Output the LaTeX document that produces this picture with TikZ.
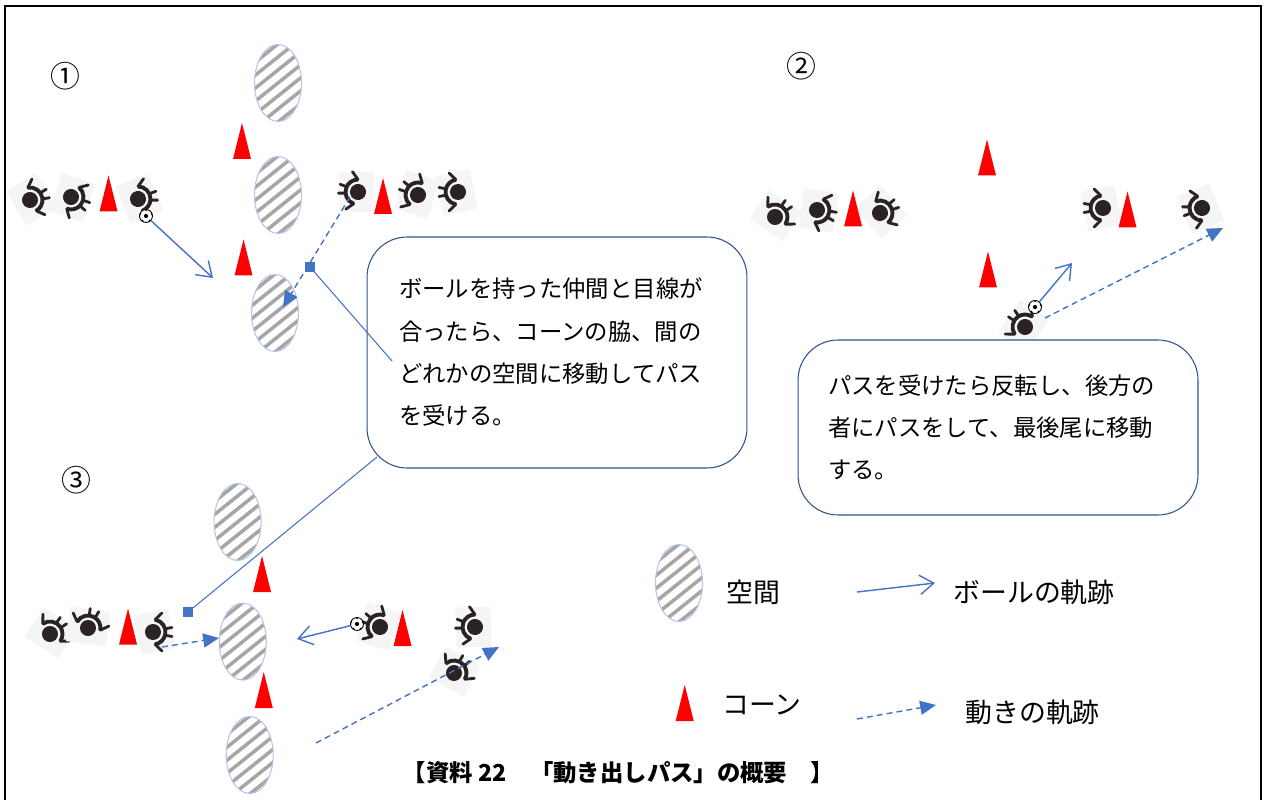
\documentclass[tikz,border=0pt]{standalone}
\usepackage{fontspec}
\setmainfont{Noto Sans CJK JP}
\usetikzlibrary{arrows.meta}

\definecolor{trackblue}{RGB}{68,114,196}
\definecolor{boxblue}{RGB}{47,82,143}
\definecolor{rimblue}{RGB}{180,199,231}
\definecolor{stripegray}{RGB}{166,166,166}
\definecolor{figdark}{RGB}{43,35,35}

\tikzset{
  % top view of a player; the shoulders face the rotate angle + 180
  player/.pic={
    \fill[black!4, rotate=12] (-19,-20) rectangle (16,20);
    \fill[figdark] (0,0) circle (8);
    \draw[figdark, line width=2.2pt] (100:12.5) arc (100:260:12.5);
    \draw[figdark, line width=1.6pt, line cap=round]
      (100:12.5) -- (-9,19)
      (260:12.5) -- (-9,-19)
      (165:12.5) -- (-19,4.5)
      (195:12.5) -- (-19,-4.5);
  },
  cone/.pic={
    \fill[red] (0,-18) -- (9,18) -- (-9,18) -- cycle;
  },
  openspace/.pic={
    \begin{scope}
      \clip (0,0) ellipse (23.5 and 38.5);
      \fill[white] (-24,-39) rectangle (24,39);
      \foreach \k in {-7,...,7}
        \draw[stripegray, line width=2pt] (-30,\k*13+24) -- (30,\k*13-24);
    \end{scope}
    \draw[rimblue, line width=0.6pt] (0,0) ellipse (23.5 and 38.5);
  },
  ball/.style={circle, draw=black, line width=0.5pt, fill=white,
    minimum size=7.4pt, inner sep=0pt,
    path picture={
      \fill[black] (path picture bounding box.center) circle (1.2pt);
      \foreach \a in {18,90,162,234,306}
        \fill[black] (path picture bounding box.center) ++(\a:3.6pt) circle (0.8pt);
    }},
  balltrack/.style={trackblue, line width=0.8pt,
    -{Straight Barb[length=8pt,width=11pt]}},
  runtrack/.style={trackblue, line width=0.8pt, dash pattern=on 3.4pt off 2.3pt,
    -{Triangle[length=9pt,width=8pt]}},
  pointer/.style={trackblue, line width=0.6pt},
  sqmark/.style={rectangle, fill=trackblue, minimum size=5.6pt, inner sep=0pt},
  note/.style={draw=boxblue, line width=0.6pt, fill=white, rounded corners=0.8cm,
    align=left, font=\fontsize{13.3pt}{24.1pt}\selectfont},
  legend/.style={anchor=west, inner sep=0pt, font=\fontsize{15.3pt}{18pt}\selectfont},
  stepno/.style={font=\fontsize{17pt}{20pt}\selectfont}
}

\begin{document}
\begin{tikzpicture}[x=0.02cm, y=-0.02cm]

\useasboundingbox (0,0) rectangle (1264,800);

% Step numbers
\node[stepno] (no1) at (65,76) {①};
\node[stepno] (no2) at (801,66) {②};
\node[stepno] (no3) at (76,480) {③};

% Spaces
\foreach \x/\y in {278/83, 278/195, 275/313, 237.6/522, 242.8/641.6, 249.7/755, 679/583}
  \pic at (\x,\y) {openspace};

% Players
\foreach \x/\y/\r in {30/200/-160, 71/197/150, 138/199/-170,
                      358/192/-10, 418/195/-30, 458/192/0,
                      775/217/-135, 817/210/160, 880/213/-150,
                      1103/208/0, 1202/208/10, 1025/327/-45,
                      50/634/-135, 88/628/-110, 153/632/-180,
                      380/627/-30, 475/627/-10, 454/673/-130}
  \pic[rotate=\r] at (\x,\y) {player};

% Cones
\foreach \x/\y in {108.5/193.5, 242/141, 243.5/257.5, 383/196,
                   853/208.5, 987/157.5, 988/269.5, 1127.5/209.5,
                   128/626.5, 262/574, 263.8/690, 402.5/628, 684.7/703}
  \pic at (\x,\y) {cone};

% Balls
\node[ball] (ballA) at (146,216) {};
\node[ball] (ballB) at (1035,307) {};
\node[ball] (ballC) at (357,624) {};

% Track end points
\coordinate (passA) at (213,278);
\coordinate (runA0) at (350,197);
\coordinate (runA1) at (283,307);
\coordinate (passB) at (1072,263);
\coordinate (runB0) at (1045,318);
\coordinate (runB1) at (1223,228);
\coordinate (runC0) at (162,647);
\coordinate (runC1) at (219,638);
\coordinate (passC) at (297,639);
\coordinate (runD0) at (316,743);
\coordinate (runD1) at (499,647);

% Ball and run tracks
\draw[balltrack] (ballA) -- (passA);
\draw[runtrack] (runA0) -- (runA1);
\draw[balltrack] (ballB) -- (passB);
\draw[runtrack] (runB0) -- (runB1);
\draw[runtrack] (runC0) -- (runC1);
\draw[balltrack] (ballC) -- (passC);
\draw[runtrack] (runD0) -- (runD1);

% Notes
\node[note, minimum width=7.6cm, minimum height=4.62cm, inner xsep=0.64cm,
      text width=6.32cm] (noteA) at (557,352.5)
  {ボールを持った仲間と目線が\\合ったら、コーンの脇、間の\\どれかの空間に移動してパス\\を受ける。};
\node[note, minimum width=8cm, minimum height=3.5cm, inner xsep=0.6cm,
      text width=6.8cm] (noteB) at (998,427.5)
  {パスを受けたら反転し、後方の\\者にパスをして、最後尾に移動\\する。};

% Note pointers
\coordinate (tipA) at (392,361);
\coordinate (tipC) at (377,457);
\node[sqmark] (markA) at (310,267) {};
\node[sqmark] (markC) at (188,612) {};
\draw[pointer] (markA.center) -- (tipA);
\draw[pointer] (tipC) -- (markC.center);

% Legend
\node[legend] (keySpace) at (726,592) {空間};
\node[legend] (keyCone) at (722,705) {コーン};
\coordinate (keyP0) at (857,592);
\coordinate (keyP1) at (935,583);
\coordinate (keyR0) at (857,719);
\coordinate (keyR1) at (936,705);
\draw[balltrack] (keyP0) -- (keyP1);
\draw[runtrack] (keyR0) -- (keyR1);
\node[legend] (keyPass) at (953,592) {ボールの軌跡};
\node[legend] (keyRun) at (965,712) {動きの軌跡};

% Caption
\node[font=\bfseries\fontsize{13.3pt}{15pt}\selectfont] (caption) at (618.5,773)
  {【資料 22　「動き出しパス」の概要　】};

% Frame (open at the bottom)
\draw[line width=1.4pt] (5,800) -- (5,6) -- (1261,6) -- (1261,800);

\end{tikzpicture}
\end{document}
